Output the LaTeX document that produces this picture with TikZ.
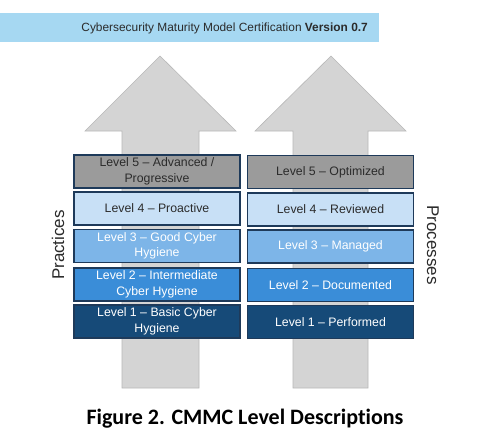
\documentclass[tikz,border=0pt]{standalone}
\usepackage{fontspec}
\setmainfont{Liberation Sans}
\newfontfamily\capfont[Ligatures=NoCommon]{Carlito}
\definecolor{banner}{HTML}{A6D8F2}
\definecolor{arrowgray}{HTML}{D4D4D4}
\definecolor{arrowedge}{HTML}{B8B8B8}
\definecolor{boxedge}{HTML}{1E3A5A}
\definecolor{lvfive}{HTML}{9B9B9B}
\definecolor{lvfour}{HTML}{C8E0F6}
\definecolor{lvthree}{HTML}{7DB5E8}
\definecolor{lvtwo}{HTML}{3A8DD8}
\definecolor{lvone}{HTML}{164A78}
\definecolor{darktext}{HTML}{2B2B2B}
\tikzset{
  lvbox/.style={draw=boxedge, line width=1.8pt, minimum width=166pt, minimum height=33pt,
    align=center, font=\fontsize{12.3}{15.5}\selectfont, inner sep=0pt},
  darkbox/.style={lvbox, text=darktext},
  lightbox/.style={lvbox, text=white},
  bigarrow/.style={fill=arrowgray, draw=arrowedge, line width=0.6pt},
  sidelabel/.style={font=\fontsize{17}{19}\selectfont, text=darktext}
}
\begin{document}
\begin{tikzpicture}[x=1pt,y=-1pt]
\useasboundingbox (0,0) rectangle (503,439);
\fill[white] (0,0) rectangle (503,439);
% banner
\fill[banner] (0,13) rectangle (379,42);
\node[anchor=east, font=\fontsize{11.9}{14}\selectfont, text=darktext, inner sep=0pt] (banner) at (368,28)
  {Cybersecurity Maturity Model Certification \textbf{Version 0.7}};
% arrows
\draw[bigarrow] (160,56) -- (236,131) -- (199,131) -- (199,388) -- (122,388) -- (122,131) -- (85,131) -- cycle;
\draw[bigarrow] (331,56) -- (406,131) -- (368,131) -- (368,388) -- (293,388) -- (293,131) -- (255,131) -- cycle;
% left boxes
\node[darkbox, fill=lvfive] (p5) at (157,171.5) {Level 5 -- Advanced /\\Progressive};
\node[darkbox, fill=lvfour] (p4) at (157,208.5) {Level 4 -- Proactive};
\node[lightbox, fill=lvthree] (p3) at (157,246) {Level 3 -- Good Cyber\\Hygiene};
\node[lightbox, fill=lvtwo] (p2) at (157,284.5) {Level 2 -- Intermediate\\Cyber Hygiene};
\node[lightbox, fill=lvone] (p1) at (157,321.5) {Level 1 -- Basic Cyber\\Hygiene};
% right boxes
\node[darkbox, fill=lvfive] (r5) at (330.5,172) {Level 5 -- Optimized};
\node[darkbox, fill=lvfour] (r4) at (330.5,209.5) {Level 4 -- Reviewed};
\node[lightbox, fill=lvthree] (r3) at (330.5,246.5) {Level 3 -- Managed};
\node[lightbox, fill=lvtwo] (r2) at (330.5,285) {Level 2 -- Documented};
\node[lightbox, fill=lvone] (r1) at (330.5,322) {Level 1 -- Performed};
% side labels
\node[sidelabel, rotate=90] (prac) at (58,245) {Practices};
\node[sidelabel, rotate=-90] (proc) at (433,245) {Processes};
% caption
\node[font=\capfont\bfseries\fontsize{22}{24}\selectfont, text=black] (cap) at (245,419) {Figure 2. CMMC Level Descriptions};
\end{tikzpicture}
\end{document}
